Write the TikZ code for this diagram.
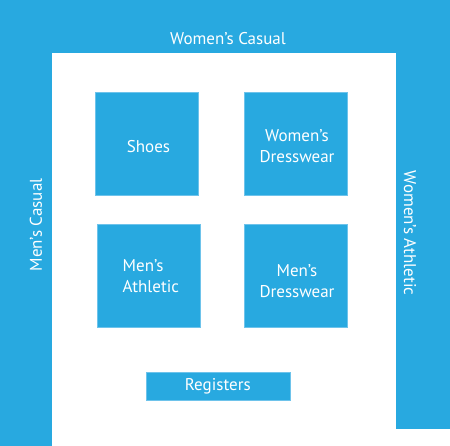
\documentclass[tikz,border=0pt]{standalone}
\usepackage{fontspec}
\setmainfont{PT Sans}
\definecolor{storeblue}{RGB}{40,169,224}
\definecolor{edgeblue}{RGB}{110,195,235}
\begin{document}
\begin{tikzpicture}[x=1pt,y=-1pt,
  dept/.style={fill=storeblue,draw=edgeblue,line width=0.6pt,text=white,font=\fontsize{17}{21}\selectfont,align=center,inner sep=0pt},
  lbl/.style={text=white,font=\fontsize{17}{21}\selectfont,inner sep=0pt}]
\useasboundingbox (0,0) rectangle (450,446);
\fill[storeblue] (0,0) rectangle (450,446);
\fill[white] (52,53) rectangle (396,446);
\fill[white] (396,429) rectangle (450,446);
\node[dept,minimum width=103pt,minimum height=103pt] (shoes) at (146.8,143.8) {};
\node[lbl] (shoestext) at (148.5,147) {Shoes};
\node[dept,minimum width=103pt,minimum height=103pt] (wdress) at (295.8,143.8) {};
\node[lbl,align=center] (wdresstext) at (297,146) {Women’s\\Dresswear};
\node[dept,minimum width=103pt,minimum height=103pt] (mathl) at (148.5,275.5) {};
\node[lbl,align=left,anchor=west] (mathltext) at (122.5,276) {Men’s\\Athletic};
\node[dept,minimum width=103pt,minimum height=103pt] (mdress) at (295.8,275.5) {};
\node[lbl,align=center] (mdresstext) at (297,281) {Men’s\\Dresswear};
\node[dept,minimum width=144pt,minimum height=28pt] (reg) at (217.8,386.5) {Registers};
\node[lbl] (wcasual) at (228,39) {Women’s Casual};
\node[lbl,rotate=90] (mcasual) at (36,225) {Men’s Casual};
\node[lbl,rotate=-90] (wathl) at (410,233) {Women’s Athletic};
\end{tikzpicture}
\end{document}
